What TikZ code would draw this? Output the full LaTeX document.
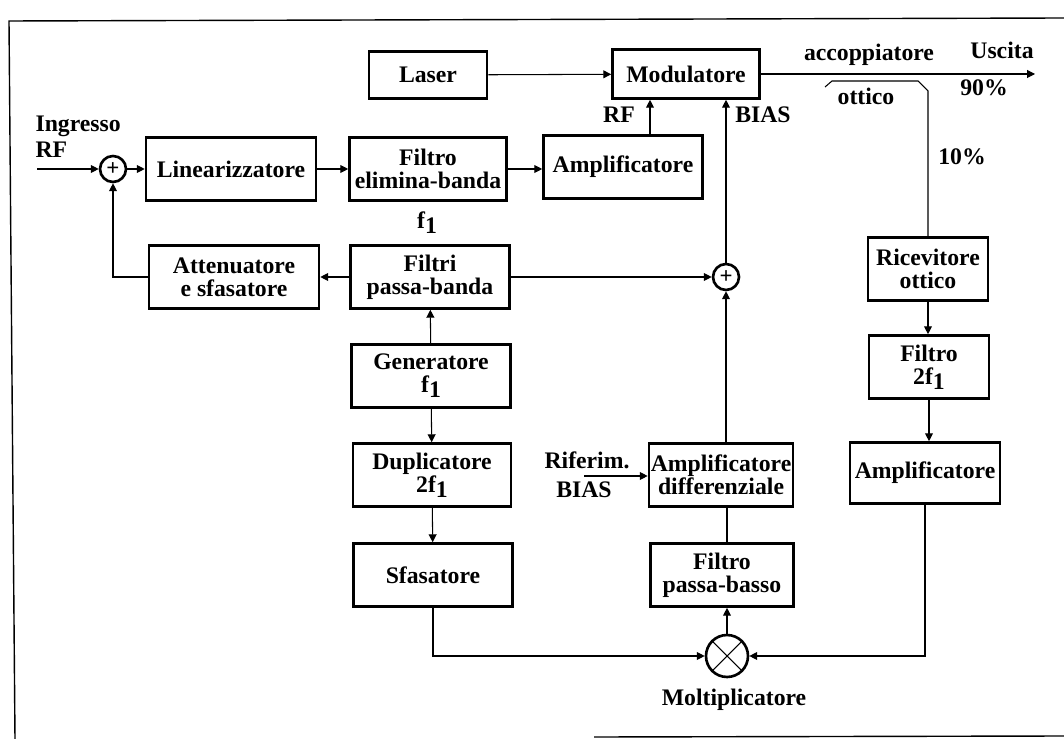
\documentclass[tikz,border=0pt]{standalone}
\usepackage{fontspec}
\setmainfont{Liberation Serif}
\usetikzlibrary{arrows.meta}

\newcommand{\blfont}{\fontsize{13.5}{13}\selectfont\bfseries}
\newcommand{\fu}{f\raisebox{-0.45ex}{1}}

\tikzset{
  blocco/.style={draw, line width=1.5pt, align=center, minimum height=1.26cm,
    inner sep=1pt, font=\blfont},
  somma/.style={draw, circle, line width=1.5pt, minimum size=0.52cm,
    inner sep=0pt, font=\fontsize{13}{13}\selectfont\bfseries},
  freccia/.style={-{Triangle[length=4.5pt,width=4.5pt]}},
  etich/.style={font=\blfont, inner sep=0pt}
}

\begin{document}
\begin{tikzpicture}[x=0.02cm, y=-0.02cm, line width=0.6pt]
    \useasboundingbox (0,0) rectangle (1064,739);
    % cornice
    \draw [line width=0.8pt] (594,737) -- (1064,736);
    \draw [line width=0.8pt] (15,739) -- (9,21) -- (1064,18);

    % blocchi
    \node [blocco, minimum width=2.36cm, minimum height=0.94cm] (laser) at (428,75) {Laser};
    \node [blocco, minimum width=2.94cm, minimum height=0.98cm] (mod) at (686,74) {Modulatore};
    \node [blocco, minimum width=3.4cm] (lin) at (231,169) {Linearizzatore};
    \node [blocco, minimum width=3.14cm] (feb) at (428,169) {Filtro\\elimina-banda};
    \node [blocco, minimum width=3.18cm] (amp) at (623,167) {Amplificatore};
    \node [blocco, minimum width=3.4cm] (att) at (234,277) {Attenuatore\\e sfasatore};
    \node [blocco, minimum width=3.18cm] (fband) at (430,277) {Filtri\\passa-banda};
    \node [blocco, minimum width=3.18cm] (gen) at (431,376) {Generatore\\\fu};
    \node [blocco, minimum width=3.16cm] (dup) at (432,475) {Duplicatore\\2\fu};
    \node [blocco, minimum width=3.18cm] (sfas) at (433,575) {Sfasatore};
    \node [blocco, minimum width=2.4cm] (ric) at (928,269) {Ricevitore\\ottico};
    \node [blocco, minimum width=2.4cm] (f2) at (929,367) {Filtro\\2\fu};
    \node [blocco, minimum width=3cm, minimum height=1.22cm] (ampr) at (925,473) {Amplificatore};
    \node [blocco, minimum width=2.88cm] (diff) at (721,475) {Amplificatore\\differenziale};
    \node [blocco, minimum width=2.86cm] (fbasso) at (722,575) {Filtro\\passa-basso};

    % sommatori e moltiplicatore
    \node [somma] (s1) at (113,169) {+};
    \node [somma] (s2) at (726,277) {+};
    \node [draw, circle, line width=1.5pt, minimum size=0.84cm] (mul) at (727,656) {};
    \draw (mul.north east) -- (mul.south west) (mul.north west) -- (mul.south east);

    % scritte
    \node [etich, anchor=west] (ingr) at (35,126) {Ingresso};
    \node [etich, anchor=west] (ingrf) at (35,150) {RF};
    \node [etich] (frq) at (427,223) {\fu};
    \node [etich] (lrf) at (619,115) {RF};
    \node [etich] (lbias) at (763,115) {BIAS};
    \node [etich] (acc) at (869,55) {accoppiatore};
    \node [etich] (usc) at (1002,50) {Uscita};
    \node [etich] (p90) at (984,88) {90\%};
    \node [etich] (ott) at (866,96) {ottico};
    \node [etich] (p10) at (962,157) {10\%};
    \node [etich] (rif) at (587,460) {Riferim.};
    \node [etich] (rbias) at (584,490) {BIAS};
    \node [etich] (molt) at (734,700) {Moltiplicatore};

    \coordinate (in) at (37,169);
    \coordinate (out) at (1035,74);
    \coordinate (rin) at (584,476);
    \coordinate (rfx) at (650,0);
    \coordinate (cp) at (928,91);

    % collegamenti
    \draw [freccia] (in) -- (s1);
    \draw [freccia] (s1) -- (lin);
    \draw [freccia] (lin) -- (feb);
    \draw [freccia] (feb.east) -- (feb.east -| amp.west);
    \draw [freccia] (laser) -- (mod);
    \draw [freccia] (amp.north -| rfx) -- (mod.south -| rfx);
    \draw [freccia] (s2) -- (s2 |- mod.south);
    \draw [freccia] (fband) -- (att);
    \draw [freccia] (fband) -- (s2);
    \draw [freccia] (att.west) -| (s1);
    \draw [freccia] (gen) -- (fband);
    \draw [freccia] (gen) -- (dup);
    \draw [freccia] (dup) -- (sfas);
    \draw [freccia] (sfas) |- (mul);
    \draw [freccia] (ampr) |- (mul);
    \draw [freccia] (mul) -- (mul |- fbasso.south);
    \draw (fbasso.north -| mul) -- (diff.south -| mul);
    \draw [freccia] (diff.north -| s2) -- (s2);
    \draw [freccia] (rin) -- (rin -| diff.west);
    \draw [freccia] (ric.south) -- (ric.south |- f2.north);
    \draw [freccia] (f2.south) -- (f2.south |- ampr.north);
    \draw [freccia] (mod.east) -- (mod.east -| out);
    % accoppiatore ottico
    \draw (ric.north -| cp) -- (cp) -- ++(-10,-10) -- (832,81) -- ++(-7,6);
\end{tikzpicture}
\end{document}
